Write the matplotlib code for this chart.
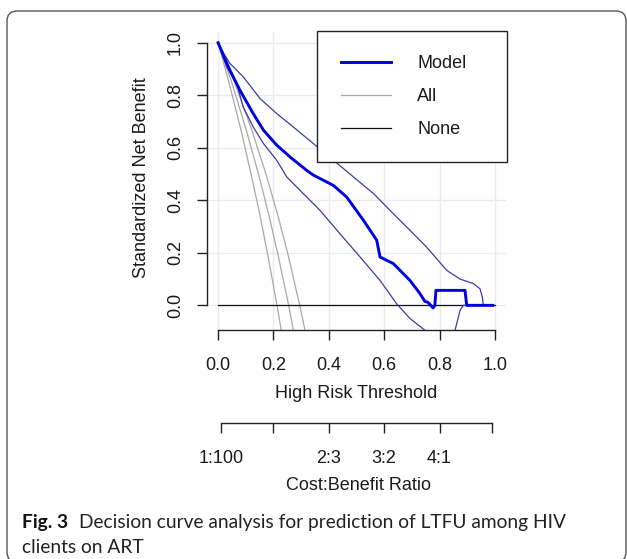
import matplotlib
matplotlib.use("Agg")
import matplotlib.pyplot as plt
from matplotlib import font_manager as fm
from matplotlib.patches import FancyBboxPatch
from matplotlib.lines import Line2D
from matplotlib.transforms import IdentityTransform

W, H, DPI = 627, 559, 100

# ---------------- data ----------------
model_t = [0.0, 0.02, 0.043, 0.079, 0.127, 0.164, 0.212, 0.26, 0.32, 0.344, 0.416, 0.464,
           0.525, 0.573, 0.585, 0.633, 0.693, 0.729, 0.747, 0.757, 0.768, 0.777, 0.783,
           0.787, 0.892, 0.898, 0.992]
model_nb = [1.0, 0.95, 0.895, 0.819, 0.73, 0.667, 0.61, 0.565, 0.514, 0.496, 0.457, 0.413,
            0.324, 0.248, 0.184, 0.159, 0.095, 0.045, 0.015, 0.012, 0.0, -0.01, 0.0,
            0.057, 0.057, 0.0, 0.0]

ci_hi_t = [0.0, 0.02, 0.043, 0.091, 0.152, 0.212, 0.272, 0.344, 0.416, 0.489, 0.561, 0.633,
           0.693, 0.753, 0.826, 0.874, 0.922, 0.946, 0.955, 0.958, 0.992]
ci_hi_nb = [1.0, 0.96, 0.921, 0.87, 0.787, 0.73, 0.679, 0.616, 0.553, 0.489, 0.426, 0.349,
            0.286, 0.222, 0.133, 0.1, 0.083, 0.063, 0.03, 0.0, 0.0]

ci_lo_t = [0.0, 0.031, 0.067, 0.091, 0.127, 0.164, 0.212, 0.248, 0.296, 0.368, 0.44, 0.513,
           0.585, 0.645, 0.693, 0.747, 0.78, 0.82, 0.856, 0.874, 0.886, 0.992]
ci_lo_nb = [1.0, 0.908, 0.845, 0.755, 0.679, 0.616, 0.552, 0.489, 0.438, 0.362, 0.273, 0.184,
            0.095, 0.006, -0.05, -0.095, -0.13, -0.15, -0.095, -0.019, 0.0, 0.0]

all_lo_t = [0.0, 0.039, 0.083, 0.119, 0.150, 0.178, 0.213, 0.229]
all_lo_nb = [1.0, 0.85, 0.667, 0.5, 0.35, 0.2, 0.0, -0.1]
all_mid_t = [0.0, 0.049, 0.102, 0.146, 0.182, 0.215, 0.255, 0.273]
all_mid_nb = [1.0, 0.85, 0.667, 0.5, 0.35, 0.2, 0.0, -0.1]
all_hi_t = [0.0, 0.059, 0.122, 0.173, 0.214, 0.251, 0.295, 0.315]
all_hi_nb = [1.0, 0.85, 0.667, 0.5, 0.35, 0.2, 0.0, -0.1]

none_t = [0.0, 1.0]
none_nb = [0.0, 0.0]

x_ticks = [0.0, 0.2, 0.4, 0.6, 0.8, 1.0]
x_ticklabels = ["0.0", "0.2", "0.4", "0.6", "0.8", "1.0"]
y_ticks = [0.0, 0.2, 0.4, 0.6, 0.8, 1.0]
y_ticklabels = ["0.0", "0.2", "0.4", "0.6", "0.8", "1.0"]
cb_ticks = [1 / 101, 0.2, 0.4, 0.6, 0.8, 100 / 101]
cb_ticklabels = ["1:100", "", "2:3", "3:2", "4:1", ""]
legend_labels = ["Model", "All", "None"]

x_label = "High Risk Threshold"
y_label = "Standardized Net Benefit"
cb_label = "Cost:Benefit Ratio"
cap_bold = "Fig. 3"
cap_line1 = "Decision curve analysis for prediction of LTFU among HIV"
cap_line2 = "clients on ART"

# ---------------- styling ----------------
plt.rcParams["font.family"] = ["Liberation Sans", "DejaVu Sans"]
AX_COL = "#222222"
TXT_COL = "#1a1a1a"
FS = 13


def fx(px):
    return px / W


def fy(py):
    return 1 - py / H


fig = plt.figure(figsize=(W / DPI, H / DPI), dpi=DPI)
fig.patch.set_facecolor("white")

ax = fig.add_axes([fx(207), fy(329.5), fx(506) - fx(207), fy(31.7) - fy(329.5)])
ax.set_xlim(-0.04, 1.04)
ax.set_ylim(-0.092, 1.042)
ax.set_facecolor("white")
for s in ("top", "right"):
    ax.spines[s].set_visible(False)
for s in ("left", "bottom"):
    ax.spines[s].set_color(AX_COL)
    ax.spines[s].set_linewidth(1.0)
ax.spines["left"].set_bounds(0, 1)
ax.spines["bottom"].set_bounds(0, 1)

ax.set_xticks(x_ticks)
ax.set_xticklabels(x_ticklabels)
ax.set_yticks(y_ticks)
ax.set_yticklabels(y_ticklabels, rotation=90, va="center")
ax.tick_params(axis="both", length=7.2, width=1.0, color=AX_COL, labelcolor=TXT_COL,
               labelsize=FS)
ax.tick_params(axis="x", pad=12.5)
ax.tick_params(axis="y", pad=9.5)
ax.grid(True, color="#ebebeb", linewidth=1.0)
ax.set_axisbelow(True)

gray = "#a8a8a8"
ax.plot(all_lo_t, all_lo_nb, color=gray, lw=0.9)
ax.plot(all_mid_t, all_mid_nb, color=gray, lw=0.9)
ax.plot(all_hi_t, all_hi_nb, color=gray, lw=0.9)
ax.plot(none_t, none_nb, color="#111111", lw=0.9)
ci_col = "#3c3ca4"
ax.plot(ci_hi_t, ci_hi_nb, color=ci_col, lw=0.9)
ax.plot(ci_lo_t, ci_lo_nb, color=ci_col, lw=0.9)
ax.plot(model_t, model_nb, color="#0000e0", lw=2.1)

handles = [Line2D([], [], color="#0000e0", lw=2.1),
           Line2D([], [], color=gray, lw=0.9),
           Line2D([], [], color="#111111", lw=0.9)]
leg = ax.legend(handles, legend_labels, loc="upper left",
                bbox_to_anchor=(fx(317), fy(165), fx(507) - fx(317), fy(31) - fy(165)),
                bbox_transform=fig.transFigure, mode="expand", borderaxespad=0,
                fontsize=FS, handlelength=2.77, handletextpad=1.45, labelspacing=0.9,
                borderpad=1.32, fancybox=False, framealpha=1, edgecolor=AX_COL)
leg.get_frame().set_linewidth(1.0)
for t in leg.get_texts():
    t.set_color(TXT_COL)

# labels
fig.text(fx(356), fy(393), x_label, ha="center", va="center", fontsize=FS, color=TXT_COL)
fig.text(fx(142), fy(178), y_label, ha="center", va="center", rotation=90, fontsize=FS,
         color=TXT_COL)

# cost:benefit axis
ax2 = fig.add_axes([fx(207), fy(423), fx(506) - fx(207), 0.001])
ax2.set_xlim(-0.04, 1.04)
ax2.patch.set_visible(False)
for s in ("top", "right", "left"):
    ax2.spines[s].set_visible(False)
ax2.spines["bottom"].set_color(AX_COL)
ax2.spines["bottom"].set_linewidth(1.0)
ax2.spines["bottom"].set_bounds(cb_ticks[0], cb_ticks[-1])
ax2.set_yticks([])
ax2.set_xticks(cb_ticks)
ax2.set_xticklabels(cb_ticklabels)
ax2.tick_params(axis="x", length=7.2, width=1.0, color=AX_COL, labelcolor=TXT_COL,
                labelsize=FS, pad=12.0)
fig.text(fx(358), fy(486), cb_label, ha="center", va="center", fontsize=FS, color=TXT_COL)

# ---------------- caption ----------------
rend = fig.canvas.get_renderer()
cap_family = "Lato"
probe = fm.FontProperties(family=[cap_family, "DejaVu Sans"], size=15)
bprobe = fm.FontProperties(family=[cap_family, "DejaVu Sans"], weight="bold", size=15)
wb, _, _ = rend.get_text_width_height_descent(cap_bold, bprobe, ismath=False)
wr, _, _ = rend.get_text_width_height_descent(cap_line1, probe, ismath=False)
gap15 = 15 * DPI / 72 * 0.55
csize = min(15.5, 15 * 545.0 / (wb + wr + gap15))

reg_prop = fm.FontProperties(family=[cap_family, "DejaVu Sans"], size=csize)
bold_prop = fm.FontProperties(family=[cap_family, "DejaVu Sans"], weight="bold", size=csize)

tb = fig.text(fx(22), fy(528), cap_bold, fontproperties=bold_prop, va="baseline",
              ha="left", color="#111111")
bb = tb.get_window_extent(renderer=rend)
gap = csize * DPI / 72 * 0.55
fig.text((bb.x1 + gap) / W, fy(528), cap_line1, fontproperties=reg_prop, va="baseline",
         ha="left", color="#222222")
fig.text(fx(22), fy(553), cap_line2, fontproperties=reg_prop, va="baseline", ha="left",
         color="#222222")

# rounded frame
frame = FancyBboxPatch((7, H - 562), 619, 562 - 11,
                       boxstyle="round,pad=0,rounding_size=10",
                       transform=IdentityTransform(), facecolor="none",
                       edgecolor="#555555", linewidth=1.0)
fig.patches.append(frame)

fig.savefig("out.png", dpi=DPI, facecolor="white")
